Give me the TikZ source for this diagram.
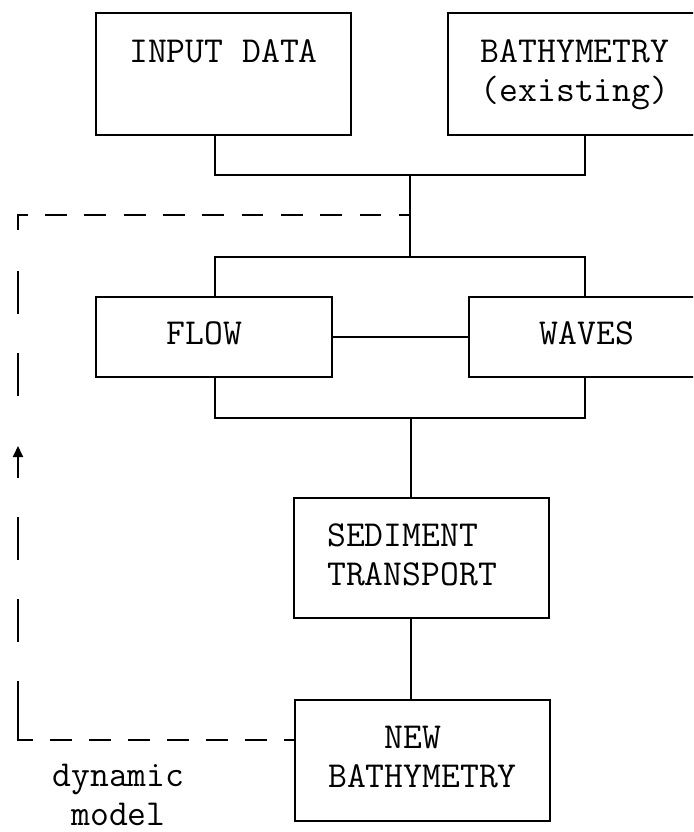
\documentclass[tikz,border=0pt]{standalone}
\usetikzlibrary{arrows.meta,calc}
\newcommand\tyfont{\fontsize{36.6}{39}\selectfont\ttfamily}
\begin{document}
\begin{tikzpicture}[x=1pt,y=-1pt,
  box/.style={draw, rectangle, line width=1.6pt, inner sep=0pt, font=\tyfont, align=center},
  conn/.style={line width=1.6pt},
  fbline/.style={line width=1.8pt, line cap=rect},
  lbl/.style={inner sep=0pt, font=\tyfont, align=center}]
\useasboundingbox (0,0) rectangle (693,832);
\clip (0,0) rectangle (693,832);
\fill[white] (0,0) rectangle (693,832);
% boxes
\node[box, minimum width=255pt, minimum height=122pt] (in) at (223.5,74) {\strut INPUT DATA\\\strut};
\node[box, minimum width=254pt, minimum height=122pt] (bathy) at (575,74) {\strut BATHYMETRY\\\strut(existing)};
\node[box, minimum width=236pt, minimum height=80pt] (flow) at (214,337) {\strut FLOW\hphantom{X}};
\node[box, minimum width=236pt, minimum height=80pt] (waves) at (587,337) {\strut WAVES};
\node[box, align=left, minimum width=255pt, minimum height=120pt] (sed) at (421.5,558) {\strut SEDIMENT\\\strut TRANSPORT\hphantom{X}};
\node[box, align=left, minimum width=255pt, minimum height=121pt] (nb) at (422.5,760.5) {\strut\hphantom{BAT}NEW\\\strut BATHYMETRY};
\node[lbl, anchor=south] (dyn) at (118.5,826) {dynamic\\model};
% junctions
\coordinate (j1) at (410,175);
\coordinate (j2) at (410,257);
\coordinate (j3) at (411,418);
% solid connectors
\draw[conn] ([xshift=-8.5pt]in.south) |- (j1) -| ([xshift=10pt]bathy.south);
\draw[conn] (j1) -- (j2);
\draw[conn] ([xshift=1pt]flow.north) |- (j2) -| ([xshift=-2pt]waves.north);
\draw[conn] (flow) -- (waves);
\draw[conn] ([xshift=1pt]flow.south) |- (j3) -| ([xshift=-2pt]waves.south);
\draw[conn] (j3) -- (j3 |- sed.north);
\draw[conn] (sed.south -| j3) -- (nb.north -| j3);
% dashed feedback loop
\coordinate (cb) at (18,740);
\coordinate (ct) at (18,215);
\coordinate (jd) at (j1 |- ct);
\coordinate (a0) at (18,478);
\coordinate (a1) at (18,446);
\draw[fbline, dash pattern=on 20pt off 19pt, dash phase=6pt] (cb) -- (nb.west |- cb);
\draw[fbline, dash pattern=on 58pt off 41pt on 41pt off 41pt on 41pt off 123pt on 41pt off 41pt on 41pt off 43pt on 14pt] (cb) -- (ct);
\draw[fbline, dash pattern=on 20pt off 19.3pt, dash phase=11.3pt] (ct) -- (jd);
\draw[fbline, line cap=butt, -{Triangle[width=10pt,length=11pt]}] (a0) -- (a1);
\end{tikzpicture}
\end{document}
